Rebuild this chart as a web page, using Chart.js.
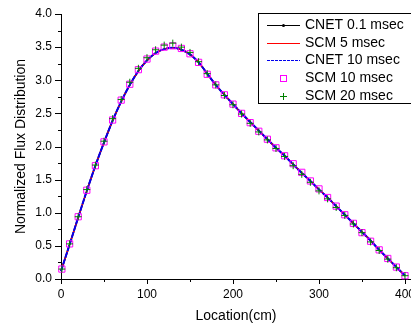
<!DOCTYPE html>
<html>
<head>
<meta charset="utf-8">
<script src="https://cdn.jsdelivr.net/npm/chart.js@4.4.1/dist/chart.umd.min.js"></script>
<style>
html,body{margin:0;padding:0;background:#fff;}
canvas{display:block;}
</style>
</head>
<body>
<canvas id="flux" width="411" height="325"></canvas>
<script>
// values
var curveX = [0,10,20,30,40,50,60,70,80,90,100,110,120,130,140,150,160,170,180,190,200,
  210,220,230,240,250,260,270,280,290,300,310,320,330,340,350,360,370,380,390,400];
var cnet01 = [0.12,0.52,0.93,1.33,1.71,2.06,2.39,2.68,2.93,3.14,3.30,3.41,3.47,3.49,3.46,3.39,3.27,3.10,2.93,2.78,2.64,
  2.50,2.37,2.24,2.11,1.98,1.86,1.73,1.60,1.48,1.35,1.23,1.10,0.97,0.84,0.71,0.58,0.44,0.31,0.18,0.05];
var scm5 = cnet01.slice();
var cnet10 = cnet01.slice();

var markX = [1,10,20,30,40,50,60,70,80,90,100,110,120,130,140,150,160,170,180,190,200,
  210,220,230,240,250,260,270,280,290,300,310,320,330,340,350,360,370,380,390,400];
var scm10 = [0.15,0.53,0.94,1.34,1.71,2.07,2.40,2.70,2.94,3.16,3.32,3.44,3.50,3.52,3.48,3.40,3.27,3.09,2.93,2.78,2.64,
  2.50,2.36,2.23,2.11,1.98,1.86,1.74,1.61,1.48,1.36,1.23,1.10,0.97,0.84,0.70,0.57,0.44,0.31,0.18,0.05];
var scm20 = [0.15,0.53,0.94,1.35,1.72,2.08,2.42,2.71,2.97,3.18,3.34,3.46,3.53,3.56,3.50,3.42,3.28,3.10,2.93,2.77,2.63,
  2.49,2.35,2.22,2.10,1.97,1.85,1.71,1.58,1.46,1.33,1.21,1.08,0.96,0.83,0.70,0.56,0.43,0.30,0.17,0.05];

var yTicks = [0,0.5,1,1.5,2,2.5,3,3.5,4];
var yMinor = [0.25,0.75,1.25,1.75,2.25,2.75,3.25,3.75];
var xTicks = [0,100,200,300,400];
var xMinor = [50,150,250,350];

var font = '"Liberation Sans", Arial, sans-serif';

function pts(xs, ys){
  return xs.map(function(x,i){ return {x:x, y:ys[i]}; });
}

// axis ticks drawn outward, minor ones shorter
var tickMarks = {
  id: 'tickMarks',
  afterDraw: function(chart){
    var c = chart.ctx, xs = chart.scales.x, ys = chart.scales.y;
    c.save();
    c.strokeStyle = '#000';
    c.lineWidth = 1;
    c.beginPath();
    function yt(v, len){
      var py = Math.round(ys.getPixelForValue(v)) + 0.5;
      c.moveTo(xs.left - len, py); c.lineTo(xs.left, py);
    }
    function xt(v, len){
      var px = Math.round(xs.getPixelForValue(v)) + 0.5;
      c.moveTo(px, ys.bottom); c.lineTo(px, ys.bottom + len);
    }
    yTicks.forEach(function(v){ yt(v, 6); });
    yMinor.forEach(function(v){ yt(v, 3); });
    xTicks.forEach(function(v){ xt(v, 5); });
    xMinor.forEach(function(v){ xt(v, 3); });
    c.stroke();
    c.restore();
  }
};

// boxed legend in the upper right corner
var boxLegend = {
  id: 'boxLegend',
  afterDraw: function(chart){
    var c = chart.ctx;
    var left = 258, top = 13, rowH = 17.7;
    c.save();
    c.fillStyle = '#fff';
    c.fillRect(left, top, 160, 90);
    c.strokeStyle = '#000';
    c.lineWidth = 1;
    c.strokeRect(left + 0.5, top + 0.5, 160, 90);
    c.font = '14px ' + font;
    c.textBaseline = 'middle';
    chart.data.datasets.forEach(function(ds, i){
      var y = Math.round(top + 12 + i * rowH) + 0.5;
      c.save();
      c.strokeStyle = ds.borderColor;
      c.lineWidth = 1;
      if (ds.showLine) {
        c.setLineDash(ds.borderDash ? [3, 1] : []);
        c.beginPath(); c.moveTo(left + 9, y); c.lineTo(left + 42, y); c.stroke();
        if (ds.legendDot) {
          c.fillStyle = ds.borderColor;
          c.beginPath(); c.arc(left + 25.5, y, 1.5, 0, Math.PI * 2); c.fill();
        }
      } else if (ds.pointStyle === 'rect') {
        c.strokeRect(left + 22.5, y - 3, 6, 6);
      } else {
        c.beginPath();
        c.moveTo(left + 22, y); c.lineTo(left + 29, y);
        c.moveTo(left + 25.5, y - 3.5); c.lineTo(left + 25.5, y + 3.5);
        c.stroke();
      }
      c.restore();
      c.fillStyle = '#000';
      c.fillText(ds.label, left + 47, y);
    });
    c.restore();
  }
};

var bg = {
  id: 'bg',
  beforeDraw: function(chart){
    var c = chart.ctx;
    c.save(); c.fillStyle = '#fff'; c.fillRect(0, 0, chart.width, chart.height); c.restore();
  }
};

new Chart(document.getElementById('flux').getContext('2d'), {
  type: 'scatter',
  data: {
    datasets: [
      { label: 'CNET 0.1 msec', data: pts(curveX, cnet01), showLine: true, legendDot: true,
        borderColor: '#000', borderWidth: 1.5, pointRadius: 0, cubicInterpolationMode: 'monotone', order: 5 },
      { label: 'SCM 5 msec', data: pts(curveX, scm5), showLine: true,
        borderColor: '#ff0000', borderWidth: 1.5, pointRadius: 0, cubicInterpolationMode: 'monotone', order: 4 },
      { label: 'CNET 10 msec', data: pts(curveX, cnet10), showLine: true, borderDash: [6, 1],
        borderColor: '#0000ee', borderWidth: 2, pointRadius: 0, cubicInterpolationMode: 'monotone', order: 3 },
      { label: 'SCM 10 msec', data: pts(markX, scm10), showLine: false, pointStyle: 'rect',
        pointRadius: 4.4, pointBorderWidth: 1, borderColor: '#ff00ff', backgroundColor: 'rgba(0,0,0,0)', order: 2 },
      { label: 'SCM 20 msec', data: pts(markX, scm20), showLine: false, pointStyle: 'cross',
        pointRadius: 3.5, pointBorderWidth: 1, borderColor: '#008000', backgroundColor: '#008000', order: 1 }
    ]
  },
  options: {
    responsive: false,
    animation: false,
    clip: false,
    layout: { autoPadding: false, padding: { top: 14, right: 0, left: 0, bottom: 0 } },
    plugins: {
      legend: { display: false },
      tooltip: { enabled: false }
    },
    scales: {
      x: {
        type: 'linear',
        min: 0, max: 407,
        grid: { display: false, drawTicks: false },
        border: { color: '#000', width: 1 },
        afterBuildTicks: function(s){ s.ticks = xTicks.map(function(v){ return {value: v}; }); },
        afterFit: function(s){ s.height = 46; s.paddingLeft = 0; s.paddingRight = 0; },
        ticks: { color: '#000', padding: 8, autoSkip: false, maxRotation: 0, font: { family: font, size: 12 } },
        title: { display: true, text: 'Location(cm)', color: '#000', padding: { top: 0, bottom: 0 },
          font: { family: font, size: 14 } }
      },
      y: {
        min: 0, max: 4,
        grid: { display: false, drawTicks: false },
        border: { color: '#000', width: 1 },
        afterBuildTicks: function(s){ s.ticks = yTicks.map(function(v){ return {value: v}; }); },
        afterFit: function(s){ s.width = 61; s.paddingTop = 0; s.paddingBottom = 0; },
        ticks: { color: '#000', padding: 9, font: { family: font, size: 12 },
          callback: function(v){ return v.toFixed(1); } },
        title: { display: true, text: 'Normalized Flux Distribution', color: '#000', padding: { top: 13, bottom: 0 },
          font: { family: font, size: 14 } }
      }
    }
  },
  plugins: [bg, tickMarks, boxLegend]
});
</script>
</body>
</html>
